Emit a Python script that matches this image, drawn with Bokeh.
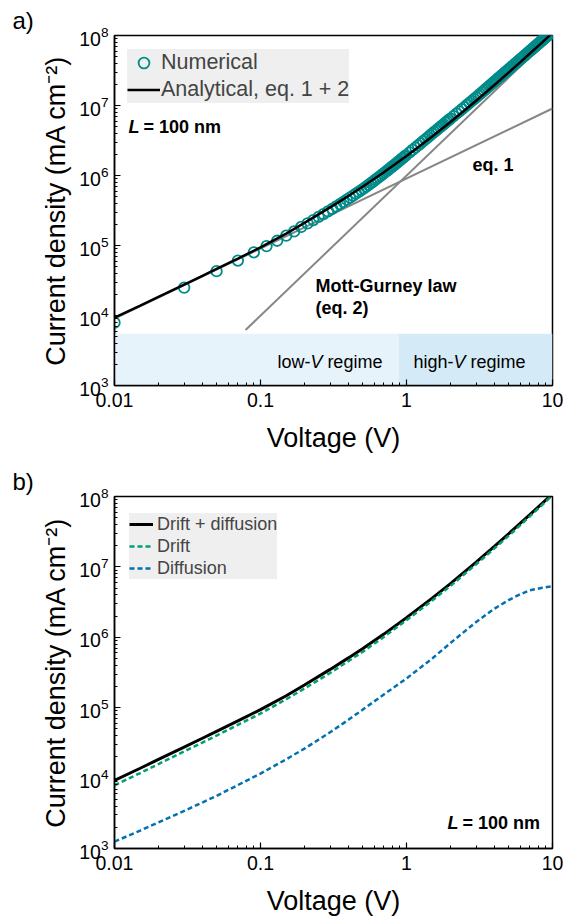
from bokeh.plotting import figure
from bokeh.models import Range1d, Legend, LegendItem, Label, CustomJSTickFormatter
from bokeh.layouts import column
from bokeh.embed import file_html
from bokeh.resources import INLINE

FONT = "Liberation Sans"

# ---------------- panel a) data ----------------
V_num = [0.01, 0.03, 0.05, 0.07, 0.09, 0.11, 0.13, 0.15, 0.17, 0.19, 0.21, 0.23, 0.25, 0.27, 0.29,
         0.31, 0.33, 0.35, 0.37, 0.39, 0.41, 0.43, 0.45, 0.47, 0.49,
         0.51, 0.53, 0.55, 0.57, 0.59, 0.61, 0.63, 0.65, 0.67, 0.69, 0.71, 0.73, 0.75, 0.77, 0.79,
         0.81, 0.83, 0.85, 0.87, 0.89, 0.91, 0.93, 0.95, 0.97, 0.99,
         1.05, 1.1, 1.15, 1.2, 1.25, 1.3, 1.35, 1.4, 1.45, 1.5, 1.55, 1.6, 1.65, 1.7, 1.75, 1.8,
         1.85, 1.9, 1.95, 2.0,
         2.1, 2.2, 2.3, 2.4, 2.5, 2.6, 2.7, 2.8, 2.9, 3.0, 3.1, 3.2, 3.3, 3.4, 3.5, 3.6, 3.7, 3.8,
         3.9, 4.0, 4.1, 4.2, 4.3, 4.4, 4.5, 4.6, 4.7, 4.8, 4.9, 5.0,
         5.125, 5.25, 5.375, 5.5, 5.625, 5.75, 5.875, 6.0, 6.125, 6.25, 6.375, 6.5, 6.625, 6.75,
         6.875, 7.0, 7.125, 7.25, 7.375, 7.5, 7.625, 7.75, 7.875, 8.0, 8.125, 8.25, 8.375, 8.5,
         8.625, 8.75, 8.875, 9.0, 9.125, 9.25, 9.375, 9.5, 9.625, 9.75, 9.875, 10.0]
J_num = [7.9e3, 2.5e4, 4.3e4, 6.1e4, 8.0e4, 9.8e4, 1.17e5, 1.38e5, 1.59e5, 1.84e5, 2.07e5, 2.31e5,
         2.56e5, 2.81e5, 3.07e5, 3.34e5, 3.62e5, 3.91e5, 4.2e5, 4.51e5, 4.83e5, 5.16e5, 5.5e5,
         5.85e5, 6.2e5,
         6.56e5, 6.95e5, 7.36e5, 7.77e5, 8.20e5, 8.64e5, 9.09e5, 9.56e5, 1.004e6, 1.052e6,
         1.103e6, 1.154e6, 1.207e6, 1.261e6, 1.316e6, 1.372e6, 1.430e6, 1.489e6, 1.550e6,
         1.612e6, 1.675e6, 1.740e6, 1.806e6, 1.873e6, 1.942e6,
         2.146e6, 2.321e6, 2.504e6, 2.691e6, 2.886e6, 3.089e6, 3.296e6, 3.51e6, 3.731e6, 3.96e6,
         4.189e6, 4.424e6, 4.666e6, 4.915e6, 5.166e6, 5.424e6, 5.688e6, 5.953e6, 6.224e6, 6.496e6,
         7.056e6, 7.638e6, 8.243e6, 8.870e6, 9.52e6, 1.0192e7, 1.0886e7, 1.1603e7, 1.2342e7,
         1.3104e7, 1.3888e7, 1.4694e7, 1.5523e7, 1.6374e7, 1.7248e7, 1.8144e7, 1.9062e7, 2.0003e7,
         2.0957e7, 2.1932e7, 2.2919e7, 2.3937e7, 2.4976e7, 2.6025e7, 2.7095e7, 2.8184e7, 2.9294e7,
         3.0424e7, 3.1575e7, 3.2745e7,
         3.42e7, 3.57e7, 3.73e7, 3.89e7, 4.05e7, 4.21e7, 4.38e7, 4.55e7, 4.72e7, 4.89e7, 5.07e7,
         5.25e7, 5.44e7, 5.62e7, 5.81e7, 6.01e7, 6.20e7, 6.40e7, 6.60e7, 6.80e7, 7.01e7, 7.22e7,
         7.43e7, 7.65e7, 7.86e7, 8.08e7, 8.31e7, 8.53e7, 8.76e7, 8.99e7, 9.23e7, 9.46e7, 9.70e7,
         9.94e7, 1.019e8, 1.043e8, 1.068e8, 1.093e8, 1.119e8, 1.145e8]

V_ana = [0.01, 0.015, 0.02, 0.03, 0.04, 0.05, 0.07, 0.1, 0.15, 0.2, 0.3, 0.4, 0.5, 0.7,
         1.0, 1.5, 2.0, 3.0, 4.0, 5.0, 6.0, 7.0, 8.5, 10.0]
J_ana = [9.3e3, 1.38e4, 1.84e4, 2.76e4, 3.68e4, 4.62e4, 6.5e4, 9.4e4, 1.48e5, 2.1e5, 3.5e5,
         5.1e5, 6.9e5, 1.11e6, 1.9e6, 3.6e6, 5.8e6, 1.17e7, 1.96e7, 2.95e7, 4.14e7, 5.53e7,
         7.99e7, 1.09e8]

eq1_V = [0.01, 10.0]
eq1_J = [9.06e3, 9.06e6]
mg_V = [0.079, 10.0]
mg_J = [6.2e3, 1.0e8]

regime_left = [0.01, 0.885]
regime_right = [0.885, 10.0]
regime_bottom = [1e3, 1e3]
regime_top = [5.5e3, 5.5e3]
regime_colors = ["#E6F3FB", "#D4EAF7"]

# ---------------- panel b) data ----------------
V_b = [0.01, 0.015, 0.02, 0.03, 0.04, 0.05, 0.07, 0.1, 0.15, 0.2, 0.3, 0.4, 0.5, 0.7,
       1.0, 1.5, 2.0, 3.0, 4.0, 5.0, 6.0, 7.0, 8.5, 10.0]
J_total = [9.3e3, 1.38e4, 1.84e4, 2.76e4, 3.68e4, 4.62e4, 6.5e4, 9.4e4, 1.48e5, 2.1e5, 3.5e5,
           5.1e5, 6.9e5, 1.11e6, 1.9e6, 3.6e6, 5.8e6, 1.17e7, 1.96e7, 2.95e7, 4.14e7, 5.53e7,
           7.99e7, 1.09e8]
J_drift = [7.9e3, 1.18e4, 1.58e4, 2.40e4, 3.2e4, 4.02e4, 5.72e4, 8.27e4, 1.317e5, 1.869e5,
           3.115e5, 4.59e5, 6.21e5, 1.01e6, 1.75e6, 3.33e6, 5.37e6, 1.09e7, 1.83e7, 2.76e7,
           3.89e7, 5.23e7, 7.59e7, 1.04e8]
J_diff = [1.25e3, 1.8e3, 2.35e3, 3.42e3, 4.5e3, 5.6e3, 7.95e3, 1.16e4, 1.85e4, 2.62e4, 4.48e4,
          6.73e4, 9.33e4, 1.545e5, 2.6e5, 5.0e5, 8.3e5, 1.65e6, 2.55e6, 3.37e6, 4.08e6, 4.65e6,
          5.05e6, 5.3e6]

x_label = "Voltage (V)"
y_label = "Current density (mA cm\u207b\u00b2)"


def make_fig(height, top, bottom, panel):
    p = figure(width=563, height=height, x_axis_type="log", y_axis_type="log",
               x_range=Range1d(0.01, 10), y_range=Range1d(1e3, 1e8),
               output_backend="svg", toolbar_location=None, title=panel,
               min_border_left=114, min_border_right=11, min_border_top=top,
               min_border_bottom=bottom)
    p.title.align = "left"
    p.title.offset = -102
    p.title.standoff = 3
    p.title.text_font = FONT
    p.title.text_font_size = "24px"
    p.title.text_font_style = "normal"
    p.title.text_color = "black"
    p.xgrid.visible = False
    p.ygrid.visible = False
    p.outline_line_color = "black"
    p.outline_line_width = 1.5
    p.outline_line_alpha = 1
    for ax in (p.xaxis[0], p.yaxis[0]):
        ax.axis_line_width = 1.5
        ax.major_tick_in = 6
        ax.major_tick_out = 0
        ax.minor_tick_in = 3
        ax.minor_tick_out = 0
        ax.major_tick_line_width = 1.2
        ax.minor_tick_line_width = 1
        ax.major_label_text_font = FONT
        ax.major_label_text_font_size = "19.5px"
        ax.major_label_text_color = "black"
        ax.axis_label_text_font = FONT
        ax.axis_label_text_font_size = "27px"
        ax.axis_label_text_font_style = "normal"
        ax.axis_label_text_color = "black"
    p.xaxis.axis_label = x_label
    p.yaxis.axis_label = y_label
    p.xaxis.major_label_standoff = 7
    p.xaxis.axis_label_standoff = 13
    p.yaxis.major_label_standoff = 6
    p.yaxis.axis_label_standoff = 5
    p.xaxis.formatter = CustomJSTickFormatter(code="return String(Number(tick.toPrecision(6)));")
    return p


def add_label(p, x, y, text, size="18px", style="bold", x_offset=0):
    p.add_layout(Label(x=x, y=y, text=text, text_font=FONT, text_font_size=size,
                       text_font_style=style, text_baseline="middle", text_align="left",
                       x_offset=x_offset, text_color="black"))


# ---------------- panel a) ----------------
pa = make_fig(460, 35, 75, "a)")
pa.quad(left=regime_left, right=regime_right, bottom=regime_bottom, top=regime_top,
        fill_color=regime_colors, line_color=None)
pa.line(eq1_V, eq1_J, line_color="#878787", line_width=2)
pa.line(mg_V, mg_J, line_color="#878787", line_width=2)
r_num = pa.scatter(V_num, J_num, marker="circle", size=10.5, fill_color=None,
                   line_color="#008B8B", line_width=1.8)
r_ana = pa.line(V_ana, J_ana, line_color="black", line_width=2.5)

leg_a = Legend(items=[LegendItem(label="Numerical", renderers=[r_num]),
                      LegendItem(label="Analytical, eq. 1 + 2", renderers=[r_ana])],
               location=(13, 282), margin=0, padding=1, spacing=0,
               glyph_width=33, glyph_height=27, label_height=27, label_standoff=1,
               label_text_font=FONT, label_text_font_size="21.5px",
               background_fill_color="#EFEFEF", background_fill_alpha=1,
               border_line_color=None)
pa.add_layout(leg_a)

add_label(pa, 0.01247, 4.85e6, "L", style="bold italic")
add_label(pa, 0.01247, 4.85e6, "= 100 nm", x_offset=15)
add_label(pa, 2.83, 1.39e6, "eq. 1")
add_label(pa, 0.238, 2.68e4, "Mott-Gurney law")
add_label(pa, 0.238, 1.26e4, "(eq. 2)")
add_label(pa, 0.1305, 2.2e3, "low-", style="normal")
add_label(pa, 0.1305, 2.2e3, "V", style="italic", x_offset=33)
add_label(pa, 0.1305, 2.2e3, "regime", style="normal", x_offset=50)
add_label(pa, 1.117, 2.2e3, "high-", style="normal")
add_label(pa, 1.117, 2.2e3, "V", style="italic", x_offset=40)
add_label(pa, 1.117, 2.2e3, "regime", style="normal", x_offset=57)

# ---------------- panel b) ----------------
pb = make_fig(460, 36, 72, "b)")
r_tot = pb.line(V_b, J_total, line_color="black", line_width=3)
r_dr = pb.line(V_b, J_drift, line_color="#009E73", line_width=2.5, line_dash="5 3")
r_df = pb.line(V_b, J_diff, line_color="#0072B2", line_width=2.5, line_dash="5 3")
leg_b = Legend(items=[LegendItem(label="Drift + diffusion", renderers=[r_tot]),
                      LegendItem(label="Drift", renderers=[r_dr]),
                      LegendItem(label="Diffusion", renderers=[r_df])],
               location=(15, 269), margin=0, padding=2, spacing=0,
               glyph_width=24, glyph_height=22, label_height=22, label_standoff=4,
               label_text_font=FONT, label_text_font_size="18px",
               background_fill_color="#EFEFEF", background_fill_alpha=1,
               border_line_color=None)
pb.add_layout(leg_b)
add_label(pb, 1.91, 2.27e3, "L", style="bold italic")
add_label(pb, 1.91, 2.27e3, "= 100 nm", x_offset=15)

layout = column(pa, pb, spacing=0)
open("out.html", "w").write(file_html(layout, INLINE))
